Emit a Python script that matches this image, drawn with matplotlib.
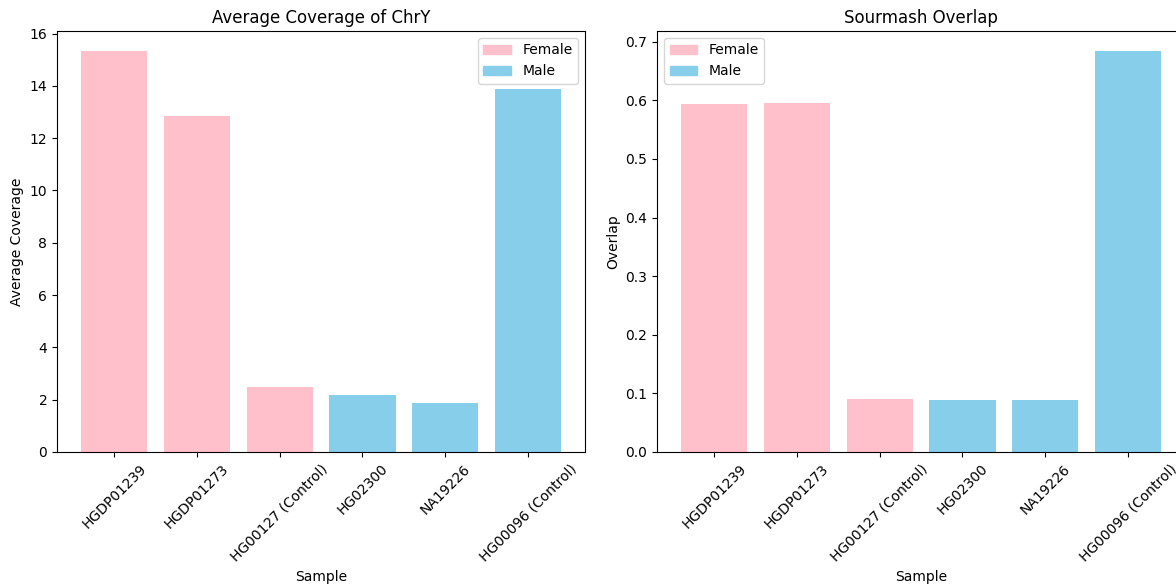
import matplotlib
matplotlib.use("Agg")
import matplotlib.pyplot as plt
import matplotlib.patches as mpatches

# Samples and per-sample results
samples = ["HGDP01239", "HGDP01273", "HG00127 (Control)", "HG02300", "NA19226", "HG00096 (Control)"]
sex = ["Female", "Female", "Female", "Male", "Male", "Male"]
avg_coverage = [15.33, 12.86, 2.48, 2.18, 1.87, 13.88]
sourmash_overlap = [0.594, 0.596, 0.090, 0.088, 0.088, 0.684]

sex_colors = {"Female": "pink", "Male": "skyblue"}
colors = [sex_colors[s] for s in sex]

fig = plt.figure(figsize=(11.76, 5.86), dpi=100)
ax1 = fig.add_axes([0.0485, 0.2287, 0.449, 0.7184])
ax2 = fig.add_axes([0.5587, 0.2287, 0.449, 0.7184])

legend_handles = [mpatches.Patch(color=sex_colors["Female"], label="Female"),
                  mpatches.Patch(color=sex_colors["Male"], label="Male")]

# Left: average chrY coverage
ax1.bar(samples, avg_coverage, color=colors)
ax1.set_title("Average Coverage of ChrY")
ax1.set_xlabel("Sample")
ax1.set_ylabel("Average Coverage")
ax1.tick_params(axis="x", labelrotation=45)
ax1.legend(handles=legend_handles, loc="upper right")

# Right: sourmash overlap
ax2.bar(samples, sourmash_overlap, color=colors)
ax2.set_title("Sourmash Overlap")
ax2.set_xlabel("Sample")
ax2.set_ylabel("Overlap")
ax2.tick_params(axis="x", labelrotation=45)
ax2.legend(handles=legend_handles, loc="upper left")

fig.savefig("out.png", dpi=100)
